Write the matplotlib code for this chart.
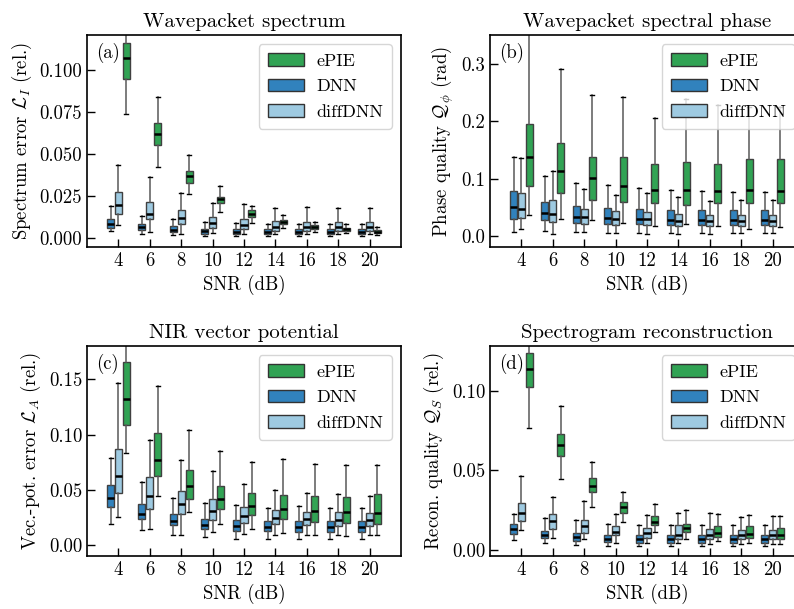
import numpy as np
import matplotlib
matplotlib.use("Agg")
import matplotlib.pyplot as plt
from matplotlib.patches import Patch

plt.rcParams['font.family'] = ['cmr10', 'DejaVu Serif']
plt.rcParams['mathtext.fontset'] = 'cm'
plt.rcParams['axes.formatter.use_mathtext'] = True
plt.rcParams['font.size'] = 12

# SNR values (dB)
snr = [4, 6, 8, 10, 12, 14, 16, 18, 20]
methods = ["ePIE", "DNN", "diffDNN"]
colors = {"ePIE": "#31a354", "DNN": "#3182bd", "diffDNN": "#9ecae1"}
offsets = {"ePIE": 0.5, "DNN": -0.5, "diffDNN": 0.0}

# box stats per SNR: (whisker low, q1, median, q3, whisker high)
# (a) spectrum error
a_epie = [(0.0736, 0.095, 0.1073, 0.1163, 0.135), (0.0423, 0.0551, 0.0617, 0.0682, 0.0843),
          (0.0259, 0.0328, 0.037, 0.0396, 0.0491), (0.0153, 0.0205, 0.0229, 0.0245, 0.0308),
          (0.009, 0.0122, 0.014, 0.0163, 0.0188), (0.006, 0.0083, 0.0095, 0.0107, 0.0135),
          (0.0035, 0.0053, 0.0062, 0.0075, 0.0095), (0.003, 0.0042, 0.005, 0.006, 0.008),
          (0.0018, 0.003, 0.0037, 0.0045, 0.0063)]
a_dnn = [(0.004, 0.006, 0.0082, 0.0113, 0.0187), (0.0022, 0.0045, 0.0063, 0.0085, 0.0129),
         (0.0015, 0.0033, 0.0048, 0.0068, 0.011), (0.0012, 0.0025, 0.0038, 0.0055, 0.0092),
         (0.001, 0.0022, 0.0035, 0.0052, 0.0088), (0.001, 0.0021, 0.0033, 0.005, 0.0085),
         (0.001, 0.0021, 0.0033, 0.005, 0.0085), (0.001, 0.0021, 0.0033, 0.005, 0.0083),
         (0.001, 0.0021, 0.0033, 0.005, 0.0083)]
a_diff = [(0.0074, 0.0143, 0.0195, 0.0271, 0.0432), (0.0035, 0.011, 0.014, 0.0213, 0.0364),
          (0.0025, 0.0082, 0.0116, 0.0165, 0.0268), (0.003, 0.006, 0.009, 0.0125, 0.021),
          (0.0025, 0.005, 0.0075, 0.011, 0.0203), (0.002, 0.0042, 0.0065, 0.0098, 0.018),
          (0.002, 0.004, 0.0062, 0.0095, 0.0183), (0.002, 0.004, 0.0062, 0.0095, 0.0175),
          (0.002, 0.004, 0.0062, 0.0095, 0.0175)]

# (b) phase quality
b_epie = [(0.037, 0.088, 0.137, 0.195, 0.40), (0.03, 0.075, 0.114, 0.162, 0.29),
          (0.028, 0.063, 0.101, 0.137, 0.246), (0.023, 0.06, 0.087, 0.137, 0.242),
          (0.018, 0.057, 0.081, 0.125, 0.205), (0.021, 0.054, 0.080, 0.129, 0.238),
          (0.018, 0.057, 0.078, 0.126, 0.228), (0.013, 0.058, 0.080, 0.135, 0.225),
          (0.015, 0.057, 0.079, 0.134, 0.225)]
b_dnn = [(0.007, 0.03, 0.05, 0.079, 0.137), (0.008, 0.028, 0.04, 0.06, 0.105),
         (0.007, 0.022, 0.034, 0.052, 0.092), (0.005, 0.021, 0.031, 0.049, 0.089),
         (0.005, 0.021, 0.030, 0.047, 0.084), (0.005, 0.02, 0.028, 0.045, 0.08),
         (0.005, 0.02, 0.028, 0.045, 0.078), (0.005, 0.02, 0.028, 0.045, 0.077),
         (0.005, 0.02, 0.028, 0.045, 0.077)]
b_diff = [(0.012, 0.032, 0.047, 0.075, 0.136), (0.004, 0.024, 0.038, 0.063, 0.114),
          (0.007, 0.021, 0.033, 0.047, 0.082), (0.005, 0.019, 0.03, 0.043, 0.072),
          (0.004, 0.019, 0.029, 0.042, 0.075), (0.004, 0.017, 0.027, 0.038, 0.068),
          (0.004, 0.018, 0.027, 0.037, 0.061), (0.005, 0.018, 0.027, 0.037, 0.062),
          (0.005, 0.018, 0.026, 0.037, 0.062)]

# (c) vector potential error
c_epie = [(0.0834, 0.109, 0.132, 0.1657, 0.20), (0.0446, 0.0627, 0.0774, 0.101, 0.1437),
          (0.0301, 0.0422, 0.0533, 0.0684, 0.1045), (0.0196, 0.0325, 0.0422, 0.0539, 0.0852),
          (0.0151, 0.0271, 0.0358, 0.0473, 0.0753), (0.0114, 0.0235, 0.0325, 0.0458, 0.0783),
          (0.0096, 0.0214, 0.031, 0.0446, 0.0732), (0.0084, 0.0202, 0.0301, 0.044, 0.0729),
          (0.0096, 0.0196, 0.0289, 0.0461, 0.0723)]
c_dnn = [(0.0196, 0.035, 0.0431, 0.0542, 0.079), (0.0136, 0.0241, 0.0286, 0.0373, 0.0572),
         (0.0096, 0.0181, 0.0223, 0.028, 0.0431), (0.0075, 0.0145, 0.0187, 0.0241, 0.0386),
         (0.006, 0.0133, 0.0175, 0.0229, 0.0361), (0.006, 0.0127, 0.0169, 0.0223, 0.0337),
         (0.006, 0.012, 0.0169, 0.0223, 0.0355), (0.006, 0.012, 0.0165, 0.022, 0.034),
         (0.006, 0.012, 0.0163, 0.022, 0.0337)]
c_diff = [(0.0256, 0.0476, 0.0623, 0.0873, 0.147), (0.0151, 0.0331, 0.0446, 0.0614, 0.0955),
          (0.009, 0.028, 0.037, 0.0488, 0.0774), (0.012, 0.0226, 0.0307, 0.0422, 0.0675),
          (0.0105, 0.0205, 0.0265, 0.0349, 0.0554), (0.009, 0.0193, 0.0247, 0.0319, 0.0497),
          (0.009, 0.0181, 0.0238, 0.0304, 0.0476), (0.009, 0.0178, 0.0232, 0.0298, 0.0467),
          (0.0096, 0.0178, 0.0232, 0.0295, 0.0446)]

# (d) spectrogram reconstruction quality
d_epie = [(0.0764, 0.1021, 0.1138, 0.1238, 0.14), (0.0446, 0.059, 0.0659, 0.073, 0.0904),
          (0.0274, 0.0362, 0.04, 0.0452, 0.0554), (0.018, 0.0236, 0.0268, 0.0303, 0.0368),
          (0.0115, 0.0157, 0.0178, 0.0215, 0.0293), (0.0073, 0.0115, 0.014, 0.0167, 0.0255),
          (0.0056, 0.0086, 0.0111, 0.0153, 0.023), (0.0048, 0.0077, 0.0103, 0.0149, 0.0224),
          (0.0038, 0.0073, 0.0094, 0.014, 0.0215)]
d_dnn = [(0.0067, 0.0103, 0.0132, 0.0165, 0.0226), (0.0044, 0.0077, 0.0098, 0.0123, 0.0203),
         (0.0036, 0.0061, 0.0082, 0.0109, 0.0188), (0.0027, 0.005, 0.0073, 0.0098, 0.0163),
         (0.0025, 0.0048, 0.007, 0.0095, 0.016), (0.0025, 0.0048, 0.007, 0.0095, 0.016),
         (0.0025, 0.0048, 0.007, 0.0095, 0.016), (0.0025, 0.0048, 0.007, 0.0095, 0.016),
         (0.0025, 0.0048, 0.007, 0.0095, 0.016)]
d_diff = [(0.0126, 0.0182, 0.0234, 0.0299, 0.0464), (0.0079, 0.0132, 0.0184, 0.0228, 0.0335),
          (0.0073, 0.0107, 0.0151, 0.0192, 0.0308), (0.0048, 0.0094, 0.0113, 0.0155, 0.0228),
          (0.0044, 0.0079, 0.0109, 0.014, 0.0224), (0.0044, 0.0073, 0.0098, 0.0157, 0.0232),
          (0.004, 0.0069, 0.0098, 0.0134, 0.0232), (0.004, 0.0069, 0.0094, 0.0128, 0.0207),
          (0.004, 0.0069, 0.0094, 0.013, 0.0215)]

panels = [
    dict(data={"ePIE": a_epie, "DNN": a_dnn, "diffDNN": a_diff}, tag="(a)",
         title="Wavepacket spectrum", ylabel=r"Spectrum error $\mathcal{L}_I$ (rel.)",
         ylim=(-0.0055, 0.121), yticks=[0, 0.025, 0.05, 0.075, 0.1], fmt="%.3f",
         rect=[87, 35, 314, 212]),
    dict(data={"ePIE": b_epie, "DNN": b_dnn, "diffDNN": b_diff}, tag="(b)",
         title="Wavepacket spectral phase", ylabel=r"Phase quality $\mathcal{Q}_\phi$ (rad)",
         ylim=(-0.019, 0.35), yticks=[0, 0.1, 0.2, 0.3], fmt="%.1f",
         rect=[490, 35, 314, 212]),
    dict(data={"ePIE": c_epie, "DNN": c_dnn, "diffDNN": c_diff}, tag="(c)",
         title="NIR vector potential", ylabel=r"Vec.-pot. error $\mathcal{L}_A$ (rel.)",
         ylim=(-0.0097, 0.18), yticks=[0, 0.05, 0.1, 0.15], fmt="%.2f",
         rect=[87, 346, 314, 210]),
    dict(data={"ePIE": d_epie, "DNN": d_dnn, "diffDNN": d_diff}, tag="(d)",
         title="Spectrogram reconstruction", ylabel=r"Recon. quality $\mathcal{Q}_S$ (rel.)",
         ylim=(-0.0036, 0.128), yticks=[0, 0.05, 0.1], fmt="%.2f",
         rect=[490, 346, 314, 210]),
]

W, H = 794, 609
fig = plt.figure(figsize=(W / 100, H / 100), dpi=100)

for p in panels:
    x0, y0, w, h = p["rect"]
    ax = fig.add_axes([x0 / W, 1 - (y0 + h) / H, w / W, h / H])
    for m in methods:
        stats = [dict(whislo=s[0], q1=s[1], med=s[2], q3=s[3], whishi=s[4])
                 for s in p["data"][m]]
        ax.bxp(stats, positions=[x + offsets[m] for x in snr], widths=0.45,
               capwidths=0.25, patch_artist=True, showfliers=False, manage_ticks=False,
               boxprops=dict(facecolor=colors[m], edgecolor="0.25", linewidth=1.0),
               medianprops=dict(color="black", linewidth=1.8),
               whiskerprops=dict(color="0.35", linewidth=1.1),
               capprops=dict(color="black", linewidth=1.0))
    ax.set_xlim(2, 22)
    ax.set_ylim(*p["ylim"])
    ax.set_xticks(snr)
    ax.set_xticklabels([str(s) for s in snr])
    ax.set_yticks(p["yticks"])
    ax.set_yticklabels([p["fmt"] % v for v in p["yticks"]])
    ax.tick_params(direction="in", length=6, width=1, labelsize=13.5)
    for sp in ax.spines.values():
        sp.set_linewidth(1.2)
    ax.set_title(p["title"], fontsize=15)
    ax.set_xlabel("SNR (dB)", fontsize=13.5)
    ax.set_ylabel(p["ylabel"], fontsize=13.5)
    ax.text(0.03, 0.965, p["tag"], transform=ax.transAxes, va="top", ha="left", fontsize=13.5)
    handles = [Patch(facecolor=colors[m], edgecolor="0.2", label=m) for m in methods]
    ax.legend(handles=handles, loc="upper right", fontsize=13, handlelength=2.0,
              handleheight=0.7, handletextpad=0.67, borderpad=0.5, labelspacing=0.55)

fig.savefig("out.png", dpi=100)
